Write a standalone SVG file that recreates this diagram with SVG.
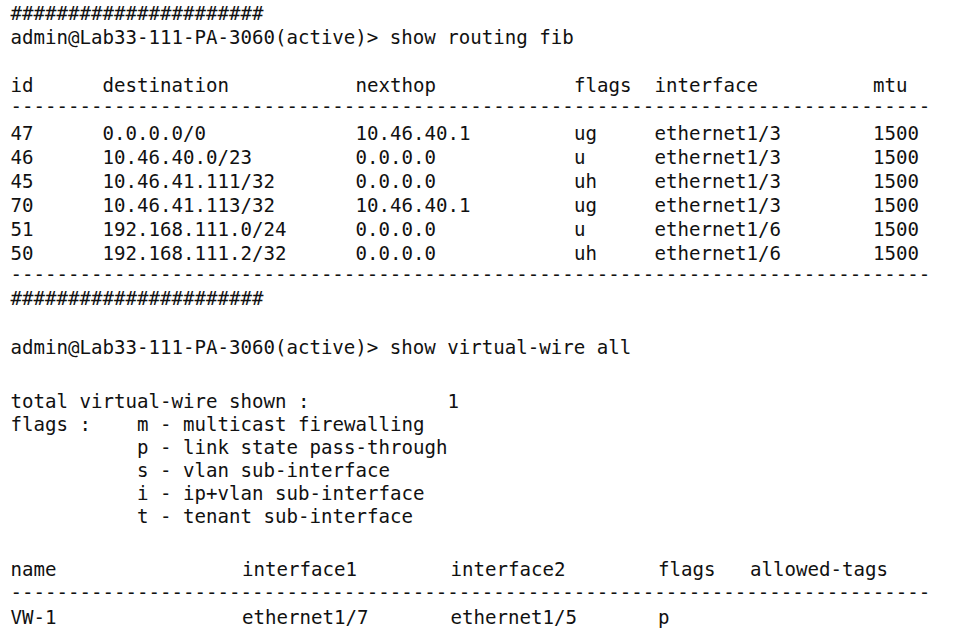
<svg xmlns="http://www.w3.org/2000/svg" width="955" height="641" viewBox="0 0 955 641">
<style>
text{font-family:"DejaVu Sans Mono","Liberation Mono",monospace;font-size:19.1px;fill:#111;white-space:pre}
</style>
<rect width="955" height="641" fill="#ffffff"/>
<g id="routing-fib">
<text x="10.5" y="20">######################</text>
<text x="10.5" y="44">admin@Lab33-111-PA-3060(active)&gt; show routing fib</text>
<g id="fib-header">
<text x="10.5" y="92">id</text>
<text x="102.5" y="92">destination</text>
<text x="355.5" y="92">nexthop</text>
<text x="574" y="92">flags</text>
<text x="654.5" y="92">interface</text>
<text x="873" y="92">mtu</text>
</g>
<text x="10.5" y="113">--------------------------------------------------------------------------------</text>
<g id="fib-rows">
<text x="10.5" y="140">47</text><text x="102.5" y="140">0.0.0.0/0</text><text x="355.5" y="140">10.46.40.1</text><text x="574" y="140">ug</text><text x="654.5" y="140">ethernet1/3</text><text x="873" y="140">1500</text>
<text x="10.5" y="164">46</text><text x="102.5" y="164">10.46.40.0/23</text><text x="355.5" y="164">0.0.0.0</text><text x="574" y="164">u</text><text x="654.5" y="164">ethernet1/3</text><text x="873" y="164">1500</text>
<text x="10.5" y="188">45</text><text x="102.5" y="188">10.46.41.111/32</text><text x="355.5" y="188">0.0.0.0</text><text x="574" y="188">uh</text><text x="654.5" y="188">ethernet1/3</text><text x="873" y="188">1500</text>
<text x="10.5" y="212">70</text><text x="102.5" y="212">10.46.41.113/32</text><text x="355.5" y="212">10.46.40.1</text><text x="574" y="212">ug</text><text x="654.5" y="212">ethernet1/3</text><text x="873" y="212">1500</text>
<text x="10.5" y="236">51</text><text x="102.5" y="236">192.168.111.0/24</text><text x="355.5" y="236">0.0.0.0</text><text x="574" y="236">u</text><text x="654.5" y="236">ethernet1/6</text><text x="873" y="236">1500</text>
<text x="10.5" y="260">50</text><text x="102.5" y="260">192.168.111.2/32</text><text x="355.5" y="260">0.0.0.0</text><text x="574" y="260">uh</text><text x="654.5" y="260">ethernet1/6</text><text x="873" y="260">1500</text>
</g>
<text x="10.5" y="281">--------------------------------------------------------------------------------</text>
<text x="10.5" y="305">######################</text>
</g>
<g id="virtual-wire">
<text x="10.5" y="354">admin@Lab33-111-PA-3060(active)&gt; show virtual-wire all</text>
<text x="10.5" y="408">total virtual-wire shown :</text>
<text x="447.5" y="408">1</text>
<text x="10.5" y="431">flags :</text>
<text x="137" y="431">m - multicast firewalling</text>
<text x="137" y="454">p - link state pass-through</text>
<text x="137" y="477">s - vlan sub-interface</text>
<text x="137" y="500">i - ip+vlan sub-interface</text>
<text x="137" y="523">t - tenant sub-interface</text>
<g id="vw-header">
<text x="10.5" y="575.5">name</text>
<text x="242" y="575.5">interface1</text>
<text x="450.5" y="575.5">interface2</text>
<text x="658" y="575.5">flags</text>
<text x="750" y="575.5">allowed-tags</text>
</g>
<text x="10.5" y="599">--------------------------------------------------------------------------------</text>
<g id="vw-rows">
<text x="10.5" y="623.5">VW-1</text>
<text x="242" y="623.5">ethernet1/7</text>
<text x="450.5" y="623.5">ethernet1/5</text>
<text x="658" y="623.5">p</text>
</g>
</g>
</svg>
